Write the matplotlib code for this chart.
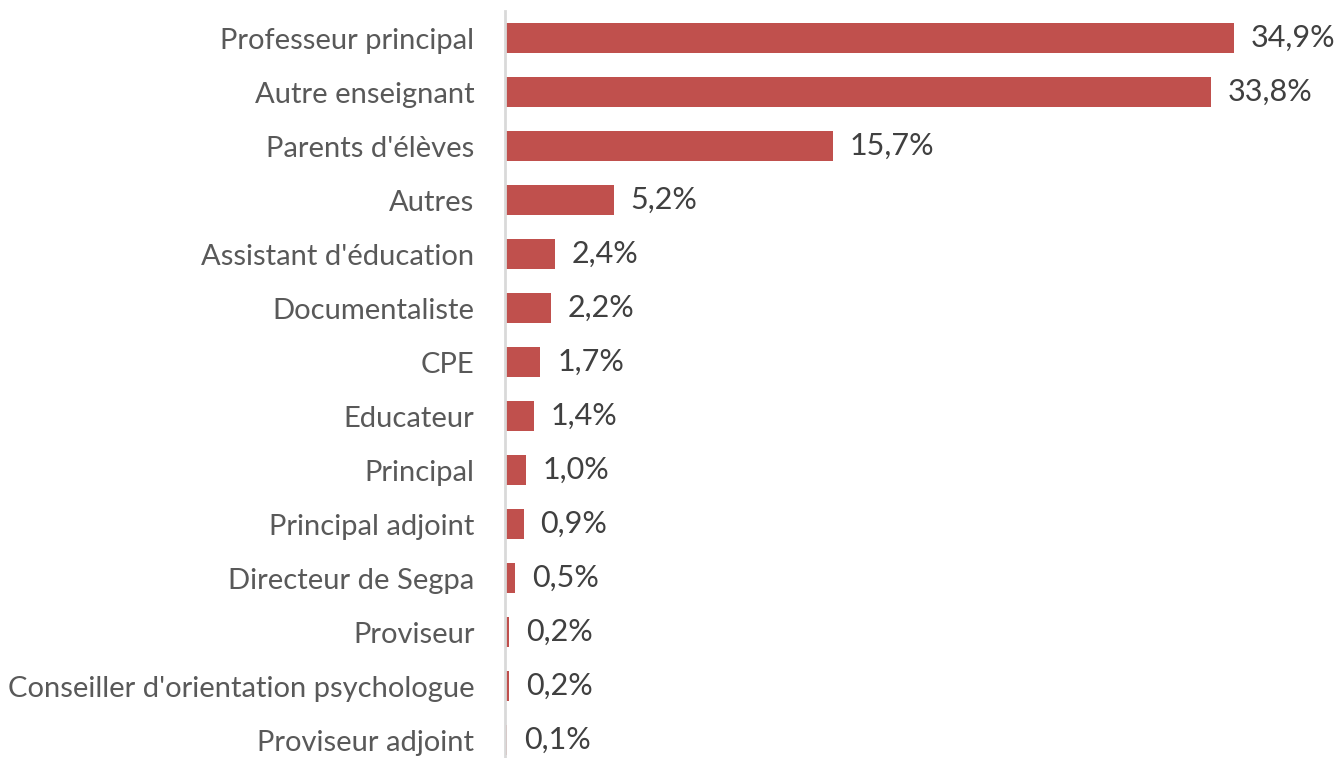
import matplotlib
matplotlib.use("Agg")
import matplotlib.pyplot as plt

# share of respondents by role
roles = ["Professeur principal", "Autre enseignant", "Parents d'élèves", "Autres",
         "Assistant d'éducation", "Documentaliste", "CPE", "Educateur", "Principal",
         "Principal adjoint", "Directeur de Segpa", "Proviseur",
         "Conseiller d'orientation psychologue", "Proviseur adjoint"]
values = [34.9, 33.8, 15.7, 5.2, 2.4, 2.2, 1.7, 1.4, 1.0, 0.9, 0.5, 0.2, 0.2, 0.1]
labels = ["34,9%", "33,8%", "15,7%", "5,2%", "2,4%", "2,2%", "1,7%", "1,4%", "1,0%",
          "0,9%", "0,5%", "0,2%", "0,2%", "0,1%"]

plt.rcParams['font.family'] = ['Lato', 'DejaVu Sans']

fig = plt.figure(figsize=(13.4, 7.58), dpi=100)
ax = fig.add_axes([505/1340, -9/758, 835/1340, 756/758])

y = range(len(roles))
ax.barh(y, values, height=0.57, color="#C0504D")
for yi, v, lab in zip(y, values, labels):
    ax.annotate(lab, (v, yi), xytext=(12, 0), textcoords="offset points",
                va="center", ha="left", fontsize=22, color="#404040")

ax.set_xlim(0, 40)
ax.set_ylim(len(roles) - 0.5, -0.5)
ax.set_yticks(list(y))
ax.set_yticklabels(roles, fontsize=21, color="#595959")
ax.tick_params(axis="y", length=0, pad=22)
ax.set_xticks([])
for s in ["top", "right", "bottom"]:
    ax.spines[s].set_visible(False)
ax.spines["left"].set_color("#D9D9D9")
ax.spines["left"].set_linewidth(2)

fig.savefig("out.png", dpi=100)
